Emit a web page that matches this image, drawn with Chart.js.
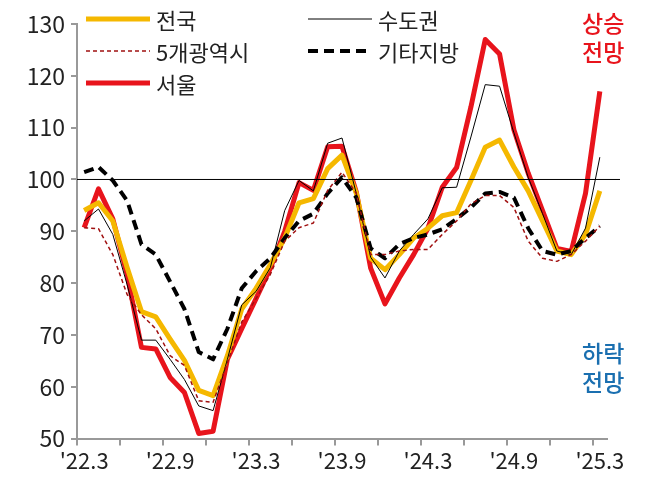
<!DOCTYPE html>
<html><head><meta charset="utf-8">
<script src="https://cdn.jsdelivr.net/npm/chart.js@4"></script>
<style>
body{margin:0;background:#fff;font-family:"Noto Sans CJK KR","Noto Sans",sans-serif}
#wrap{position:relative;width:645px;height:490px}
.lg{position:absolute;font-size:22px;line-height:22px;color:#222;display:flex;align-items:center}
.lg svg{margin-right:6px}
.note{position:absolute;font-size:23px;font-weight:500;line-height:29px;text-align:center}
</style></head><body>
<div id="wrap">
<canvas id="c" width="645" height="490"></canvas>
<div class="lg" style="left:86px;top:8px"><svg width="64" height="10"><line x1="0" y1="5" x2="64" y2="5" stroke="#f5b800" stroke-width="5"/></svg>전국</div>
<div class="lg" style="left:308px;top:8px"><svg width="64" height="10"><line x1="0" y1="5" x2="64" y2="5" stroke="#000" stroke-width="1"/></svg>수도권</div>
<div class="lg" style="left:86px;top:40px"><svg width="64" height="10"><line x1="0" y1="5" x2="64" y2="5" stroke="#a01010" stroke-width="1.5" stroke-dasharray="4,3"/></svg>5개광역시</div>
<div class="lg" style="left:308px;top:40px"><svg width="64" height="10"><line x1="0" y1="5" x2="64" y2="5" stroke="#000" stroke-width="4" stroke-dasharray="10,6"/></svg>기타지방</div>
<div class="lg" style="left:86px;top:72px"><svg width="64" height="10"><line x1="0" y1="5" x2="64" y2="5" stroke="#e8141c" stroke-width="5"/></svg>서울</div>
<div class="note" style="left:582px;top:8px;color:#e8141c">상승<br>전망</div>
<div class="note" style="left:582px;top:338px;color:#1a6fb0">하락<br>전망</div>
</div>
<script>
const months = [];
for (let y = 22, m = 3; months.length < 37; ) {
  months.push("'" + y + "." + m);
  m++; if (m > 12) { m = 1; y++; }
}
const nation = [94,95.5,92,83,74.5,73.5,69.2,65.1,59.3,58.3,66,75,79,83.6,88.7,95.5,96.3,102.1,104.7,97.3,84.8,82.6,85.5,88.7,90.6,93,93.6,99.8,106.2,107.6,102.4,97.8,92,86.2,85.5,89.4,97.8];
const capital = [92,94.3,89.4,79.7,69,69,65.3,61.4,56.3,55.4,65.3,75.8,78.4,83,94,99.8,97.8,107,108,97.3,85,81,86.2,89.4,92.4,98.4,98.5,108.2,118.3,118,109,100.4,93.4,86.2,85.5,90.6,104.3];
const metro5 = [90.7,90.5,85.5,77.8,73.9,71.2,66,64.1,57.3,57,64.7,72.5,77,81.7,88.1,90.7,91.6,97.9,101.4,97.3,85.5,85.5,86.2,86.5,86.5,89.4,92,95.3,96.9,96.9,94.6,88.1,84.8,84.2,85.5,88.1,91];
const others = [101.4,102.4,99.8,95.9,87.5,85.5,80.3,75,66.7,65.3,71.2,79,82.3,84.8,88.7,92,93.4,97.3,100.4,96.5,86.7,84.8,87.5,88.7,89.4,90.4,92.4,94.6,97.3,97.6,96.5,90.6,86.2,85.5,86.2,88.7,91];
const seoul = [90.7,98.2,92.4,81.7,67.6,67.3,61.8,58.9,51,51.4,65.3,71.2,77,82.9,90,99.4,97.9,106.3,106.4,97.6,82.9,76,81,85.5,90.6,98.5,102.3,114,127,124.2,109.6,101.2,94,86.7,86.1,97.3,117];

const line100 = {
  id: "line100",
  afterDatasetsDraw(chart) {
    const { ctx, chartArea, scales } = chart;
    const y = scales.y.getPixelForValue(100);
    ctx.save();
    ctx.strokeStyle = "#000"; ctx.lineWidth = 1;
    ctx.beginPath(); ctx.moveTo(chartArea.left, y); ctx.lineTo(chartArea.right + 13, y); ctx.stroke();
    ctx.restore();
  }
};

new Chart(document.getElementById("c"), {
  type: "line",
  data: {
    labels: months,
    datasets: [
      { data: metro5, borderColor: "#a01010", borderWidth: 1.5, borderDash: [4, 3] },
      { data: others, borderColor: "#000", borderWidth: 4, borderDash: [10, 6] },
      { data: capital, borderColor: "#000", borderWidth: 1 },
      { data: nation, borderColor: "#f5b800", borderWidth: 5 },
      { data: seoul, borderColor: "#e8141c", borderWidth: 5 }
    ]
  },
  options: {
    responsive: false,
    animation: false,
    layout: { padding: { left: 4, right: 38, top: 24, bottom: 14 } },
    elements: { point: { radius: 0 }, line: { tension: 0, borderJoinStyle: "round" } },
    plugins: { legend: { display: false }, tooltip: { enabled: false } },
    scales: {
      x: {
        offset: true,
        grid: {
          offset: true, drawOnChartArea: false, tickLength: 7,
          color: c => c.index % 3 === 0 ? "#999" : "rgba(0,0,0,0)", lineWidth: 2
        },
        border: { color: "#999", width: 2 },
        ticks: {
          autoSkip: false, maxRotation: 0, color: "#222", padding: 2,
          font: { size: 22, family: "Noto Sans CJK KR" },
          callback: (v, i) => i % 6 === 0 ? months[i] : ""
        }
      },
      y: {
        min: 50, max: 130,
        afterFit: s => { s.width = 73; },
        grid: { drawOnChartArea: false, tickLength: 6, color: "#999", lineWidth: 2 },
        border: { color: "#999", width: 2 },
        ticks: { stepSize: 10, color: "#222", padding: 6, font: { size: 23, family: "Noto Sans CJK KR" } }
      }
    }
  },
  plugins: [line100]
});
</script>
</body></html>
